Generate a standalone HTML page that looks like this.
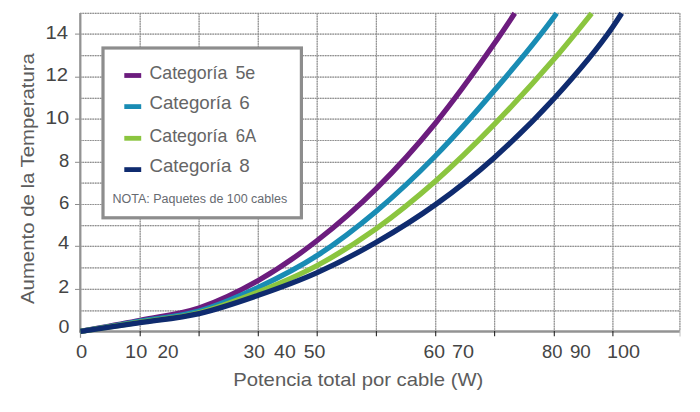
<!DOCTYPE html>
<html><head><meta charset="utf-8"><style>
html,body{margin:0;padding:0;background:#fff;width:700px;height:412px;overflow:hidden}
svg{display:block;font-family:"Liberation Sans",sans-serif}
</style></head><body>
<svg width="700" height="412" viewBox="0 0 700 412">
<rect width="700" height="412" fill="#fff"/>
<line x1="80" y1="310.90" x2="680" y2="310.90" stroke="#d2d2d2" stroke-width="1.2"/>
<line x1="80" y1="289.40" x2="680" y2="289.40" stroke="#d2d2d2" stroke-width="1.2"/>
<line x1="80" y1="267.80" x2="680" y2="267.80" stroke="#d2d2d2" stroke-width="1.2"/>
<line x1="80" y1="246.30" x2="680" y2="246.30" stroke="#d2d2d2" stroke-width="1.2"/>
<line x1="80" y1="225.60" x2="680" y2="225.60" stroke="#d2d2d2" stroke-width="1.2"/>
<line x1="80" y1="204.50" x2="680" y2="204.50" stroke="#d2d2d2" stroke-width="1.2"/>
<line x1="80" y1="183.10" x2="680" y2="183.10" stroke="#d2d2d2" stroke-width="1.2"/>
<line x1="80" y1="162.30" x2="680" y2="162.30" stroke="#d2d2d2" stroke-width="1.2"/>
<line x1="80" y1="140.50" x2="680" y2="140.50" stroke="#d2d2d2" stroke-width="1.2"/>
<line x1="80" y1="119.10" x2="680" y2="119.10" stroke="#d2d2d2" stroke-width="1.2"/>
<line x1="80" y1="98.30" x2="680" y2="98.30" stroke="#d2d2d2" stroke-width="1.2"/>
<line x1="80" y1="77.20" x2="680" y2="77.20" stroke="#d2d2d2" stroke-width="1.2"/>
<line x1="80" y1="55.70" x2="680" y2="55.70" stroke="#d2d2d2" stroke-width="1.2"/>
<line x1="80" y1="34.10" x2="680" y2="34.10" stroke="#d2d2d2" stroke-width="1.2"/>
<line x1="80" y1="13.3" x2="680" y2="13.3" stroke="#d2d2d2" stroke-width="1.2"/>
<line x1="140.20" y1="13.3" x2="140.20" y2="331" stroke="#d2d2d2" stroke-width="1.2"/>
<line x1="199.10" y1="13.3" x2="199.10" y2="331" stroke="#d2d2d2" stroke-width="1.2"/>
<line x1="258.30" y1="13.3" x2="258.30" y2="331" stroke="#d2d2d2" stroke-width="1.2"/>
<line x1="317.20" y1="13.3" x2="317.20" y2="331" stroke="#d2d2d2" stroke-width="1.2"/>
<line x1="376.40" y1="13.3" x2="376.40" y2="331" stroke="#d2d2d2" stroke-width="1.2"/>
<line x1="435.70" y1="13.3" x2="435.70" y2="331" stroke="#d2d2d2" stroke-width="1.2"/>
<line x1="494.60" y1="13.3" x2="494.60" y2="331" stroke="#d2d2d2" stroke-width="1.2"/>
<line x1="554.30" y1="13.3" x2="554.30" y2="331" stroke="#d2d2d2" stroke-width="1.2"/>
<line x1="612.90" y1="13.3" x2="612.90" y2="331" stroke="#d2d2d2" stroke-width="1.2"/>
<line x1="679.9" y1="13.3" x2="679.9" y2="331" stroke="#d2d2d2" stroke-width="1.2"/>
<line x1="80" y1="310.90" x2="680" y2="310.90" stroke="#8e8e8e" stroke-width="1.2" stroke-dasharray="1.4 1.1"/>
<line x1="80" y1="289.40" x2="680" y2="289.40" stroke="#8e8e8e" stroke-width="1.2" stroke-dasharray="1.4 1.1"/>
<line x1="80" y1="267.80" x2="680" y2="267.80" stroke="#8e8e8e" stroke-width="1.2" stroke-dasharray="1.4 1.1"/>
<line x1="80" y1="246.30" x2="680" y2="246.30" stroke="#8e8e8e" stroke-width="1.2" stroke-dasharray="1.4 1.1"/>
<line x1="80" y1="225.60" x2="680" y2="225.60" stroke="#8e8e8e" stroke-width="1.2" stroke-dasharray="1.4 1.1"/>
<line x1="80" y1="204.50" x2="680" y2="204.50" stroke="#8e8e8e" stroke-width="1.2" stroke-dasharray="1.4 1.1"/>
<line x1="80" y1="183.10" x2="680" y2="183.10" stroke="#8e8e8e" stroke-width="1.2" stroke-dasharray="1.4 1.1"/>
<line x1="80" y1="162.30" x2="680" y2="162.30" stroke="#8e8e8e" stroke-width="1.2" stroke-dasharray="1.4 1.1"/>
<line x1="80" y1="140.50" x2="680" y2="140.50" stroke="#8e8e8e" stroke-width="1.2" stroke-dasharray="1.4 1.1"/>
<line x1="80" y1="119.10" x2="680" y2="119.10" stroke="#8e8e8e" stroke-width="1.2" stroke-dasharray="1.4 1.1"/>
<line x1="80" y1="98.30" x2="680" y2="98.30" stroke="#8e8e8e" stroke-width="1.2" stroke-dasharray="1.4 1.1"/>
<line x1="80" y1="77.20" x2="680" y2="77.20" stroke="#8e8e8e" stroke-width="1.2" stroke-dasharray="1.4 1.1"/>
<line x1="80" y1="55.70" x2="680" y2="55.70" stroke="#8e8e8e" stroke-width="1.2" stroke-dasharray="1.4 1.1"/>
<line x1="80" y1="34.10" x2="680" y2="34.10" stroke="#8e8e8e" stroke-width="1.2" stroke-dasharray="1.4 1.1"/>
<line x1="80" y1="13.3" x2="680" y2="13.3" stroke="#8e8e8e" stroke-width="1.2" stroke-dasharray="1.4 1.1"/>
<line x1="140.20" y1="13.3" x2="140.20" y2="331" stroke="#8e8e8e" stroke-width="1.2" stroke-dasharray="1.4 1.1"/>
<line x1="199.10" y1="13.3" x2="199.10" y2="331" stroke="#8e8e8e" stroke-width="1.2" stroke-dasharray="1.4 1.1"/>
<line x1="258.30" y1="13.3" x2="258.30" y2="331" stroke="#8e8e8e" stroke-width="1.2" stroke-dasharray="1.4 1.1"/>
<line x1="317.20" y1="13.3" x2="317.20" y2="331" stroke="#8e8e8e" stroke-width="1.2" stroke-dasharray="1.4 1.1"/>
<line x1="376.40" y1="13.3" x2="376.40" y2="331" stroke="#8e8e8e" stroke-width="1.2" stroke-dasharray="1.4 1.1"/>
<line x1="435.70" y1="13.3" x2="435.70" y2="331" stroke="#8e8e8e" stroke-width="1.2" stroke-dasharray="1.4 1.1"/>
<line x1="494.60" y1="13.3" x2="494.60" y2="331" stroke="#8e8e8e" stroke-width="1.2" stroke-dasharray="1.4 1.1"/>
<line x1="554.30" y1="13.3" x2="554.30" y2="331" stroke="#8e8e8e" stroke-width="1.2" stroke-dasharray="1.4 1.1"/>
<line x1="612.90" y1="13.3" x2="612.90" y2="331" stroke="#8e8e8e" stroke-width="1.2" stroke-dasharray="1.4 1.1"/>
<line x1="679.9" y1="13.3" x2="679.9" y2="331" stroke="#8e8e8e" stroke-width="1.2" stroke-dasharray="1.4 1.1"/>
<line x1="80.3" y1="13" x2="80.3" y2="332" stroke="#939393" stroke-width="2.3"/>
<line x1="79" y1="331.5" x2="680" y2="331.5" stroke="#939393" stroke-width="2.3"/>
<line x1="75" y1="289.40" x2="80" y2="289.40" stroke="#8c8c8c" stroke-width="1"/>
<line x1="75" y1="246.30" x2="80" y2="246.30" stroke="#8c8c8c" stroke-width="1"/>
<line x1="75" y1="204.50" x2="80" y2="204.50" stroke="#8c8c8c" stroke-width="1"/>
<line x1="75" y1="162.30" x2="80" y2="162.30" stroke="#8c8c8c" stroke-width="1"/>
<line x1="75" y1="119.10" x2="80" y2="119.10" stroke="#8c8c8c" stroke-width="1"/>
<line x1="75" y1="77.20" x2="80" y2="77.20" stroke="#8c8c8c" stroke-width="1"/>
<line x1="75" y1="34.10" x2="80" y2="34.10" stroke="#8c8c8c" stroke-width="1"/>
<line x1="80.5" y1="331" x2="80.5" y2="337.8" stroke="#8f8f8f" stroke-width="1.2"/>
<line x1="140.20" y1="331" x2="140.20" y2="336.3" stroke="#262626" stroke-width="1.1"/>
<line x1="199.10" y1="331" x2="199.10" y2="336.3" stroke="#262626" stroke-width="1.1"/>
<line x1="258.30" y1="331" x2="258.30" y2="336.3" stroke="#262626" stroke-width="1.1"/>
<line x1="317.20" y1="331" x2="317.20" y2="336.3" stroke="#262626" stroke-width="1.1"/>
<line x1="376.40" y1="331" x2="376.40" y2="336.3" stroke="#262626" stroke-width="1.1"/>
<line x1="435.70" y1="331" x2="435.70" y2="336.3" stroke="#262626" stroke-width="1.1"/>
<line x1="494.60" y1="331" x2="494.60" y2="336.3" stroke="#262626" stroke-width="1.1"/>
<line x1="554.30" y1="331" x2="554.30" y2="336.3" stroke="#262626" stroke-width="1.1"/>
<line x1="612.90" y1="331" x2="612.90" y2="336.3" stroke="#262626" stroke-width="1.1"/>
<line x1="680" y1="331" x2="680" y2="336.5" stroke="#c0c0c0" stroke-width="1"/>
<path d="M80.50,331.30 C90.45,329.47 120.43,324.18 140.20,320.30 C159.97,316.42 179.42,314.63 199.10,308.00 C218.78,301.37 238.62,291.75 258.30,280.50 C277.98,269.25 297.53,255.81 317.20,240.50 C336.87,225.19 356.57,208.20 376.30,188.61 C396.03,169.03 415.90,147.19 435.60,122.98 C455.30,98.77 474.72,71.79 494.50,43.35 C500.57,34.62 507.61,24.10 514.75,13.28" fill="none" stroke="#6c1c7e" stroke-width="5.3" stroke-linejoin="round"/>
<path d="M80.50,331.30 C90.45,329.62 120.43,324.58 140.20,321.20 C159.97,317.82 179.42,316.65 199.10,311.00 C218.78,305.35 238.62,296.55 258.30,287.30 C277.98,278.05 297.53,268.19 317.20,255.50 C336.87,242.81 356.57,227.78 376.30,211.16 C396.03,194.53 415.90,175.89 435.60,155.74 C455.30,135.60 474.72,113.53 494.50,90.32 C514.28,67.10 534.60,43.47 554.30,16.46 C555.05,15.43 555.81,14.38 556.58,13.30" fill="none" stroke="#198cb4" stroke-width="5.3" stroke-linejoin="round"/>
<path d="M80.50,331.30 C90.45,329.78 120.43,325.28 140.20,322.20 C159.97,319.12 179.42,317.83 199.10,312.80 C218.78,307.77 238.62,299.88 258.30,292.00 C277.98,284.12 297.53,276.07 317.20,265.50 C336.87,254.93 356.57,242.65 376.30,228.56 C396.03,214.47 415.90,198.36 435.60,180.96 C455.30,163.55 474.72,144.48 494.50,124.12 C514.28,103.76 534.60,81.67 554.30,58.82 C565.51,45.81 579.72,28.23 591.68,13.29" fill="none" stroke="#8bc53f" stroke-width="5.3" stroke-linejoin="round"/>
<path d="M80.50,331.30 C90.45,329.87 120.43,325.65 140.20,322.70 C159.97,319.75 179.42,318.17 199.10,313.60 C218.78,309.03 238.62,302.13 258.30,295.30 C277.98,288.47 297.53,281.44 317.20,272.60 C336.87,263.76 356.57,253.62 376.30,242.27 C396.03,230.92 415.90,218.65 435.60,204.50 C455.30,190.36 474.72,175.10 494.50,157.41 C514.28,139.71 534.60,120.05 554.30,98.31 C574.00,76.57 593.17,55.28 612.70,26.95 C615.52,22.86 618.55,18.23 621.70,13.26" fill="none" stroke="#0f2b6f" stroke-width="5.3" stroke-linejoin="round"/>
<rect x="103" y="48" width="198.4" height="169.8" fill="#fff" stroke="#8d8d8d" stroke-width="3.2"/>
<rect x="124.3" y="73.1" width="16.9" height="4.8" fill="#6c1c7e"/>
<rect x="124.3" y="104.2" width="16.9" height="4.8" fill="#198cb4"/>
<rect x="124.3" y="135.9" width="16.9" height="4.8" fill="#8bc53f"/>
<rect x="124.3" y="167.2" width="16.9" height="4.8" fill="#0f2b6f"/>
<text x="45.47" y="38.60" font-size="18" fill="#454545" textLength="22.56" lengthAdjust="spacingAndGlyphs">14</text>
<text x="45.47" y="81.30" font-size="18" fill="#454545" textLength="22.56" lengthAdjust="spacingAndGlyphs">12</text>
<text x="45.21" y="124.30" font-size="18" fill="#454545" textLength="23.93" lengthAdjust="spacingAndGlyphs">10</text>
<text x="58.90" y="167.10" font-size="18" fill="#454545" textLength="10.22" lengthAdjust="spacingAndGlyphs">8</text>
<text x="59.10" y="208.50" font-size="18" fill="#454545" textLength="10.32" lengthAdjust="spacingAndGlyphs">6</text>
<text x="57.90" y="249.10" font-size="18" fill="#454545" textLength="11.22" lengthAdjust="spacingAndGlyphs">4</text>
<text x="58.20" y="293.30" font-size="18" fill="#454545" textLength="10.92" lengthAdjust="spacingAndGlyphs">2</text>
<text x="58.50" y="332.80" font-size="18" fill="#454545" textLength="10.92" lengthAdjust="spacingAndGlyphs">0</text>
<text x="76.10" y="358.00" font-size="18" fill="#454545" textLength="11.22" lengthAdjust="spacingAndGlyphs">0</text>
<text x="125.09" y="358.00" font-size="18" fill="#454545" textLength="22.14" lengthAdjust="spacingAndGlyphs">10</text>
<text x="157.50" y="358.00" font-size="18" fill="#454545" textLength="21.03" lengthAdjust="spacingAndGlyphs">20</text>
<text x="243.50" y="358.00" font-size="18" fill="#454545" textLength="21.43" lengthAdjust="spacingAndGlyphs">30</text>
<text x="274.10" y="358.00" font-size="18" fill="#454545" textLength="21.73" lengthAdjust="spacingAndGlyphs">40</text>
<text x="303.70" y="358.00" font-size="18" fill="#454545" textLength="21.73" lengthAdjust="spacingAndGlyphs">50</text>
<text x="423.50" y="358.00" font-size="18" fill="#454545" textLength="21.53" lengthAdjust="spacingAndGlyphs">60</text>
<text x="452.00" y="358.00" font-size="18" fill="#454545" textLength="22.03" lengthAdjust="spacingAndGlyphs">70</text>
<text x="542.10" y="358.00" font-size="18" fill="#454545" textLength="20.43" lengthAdjust="spacingAndGlyphs">80</text>
<text x="569.90" y="358.00" font-size="18" fill="#454545" textLength="20.93" lengthAdjust="spacingAndGlyphs">90</text>
<text x="607.00" y="358.00" font-size="18" fill="#454545" textLength="33.05" lengthAdjust="spacingAndGlyphs">100</text>
<text x="233.20" y="386.30" font-size="18.5" fill="#5c5c5c" textLength="250.10" lengthAdjust="spacingAndGlyphs">Potencia total por cable (W)</text>
<text x="149.50" y="78.70" font-size="18.5" fill="#656565" textLength="77.88" lengthAdjust="spacingAndGlyphs">Categoría</text>
<text x="235.40" y="78.70" font-size="18.5" fill="#656565" textLength="19.86" lengthAdjust="spacingAndGlyphs">5e</text>
<text x="149.50" y="109.40" font-size="18.5" fill="#656565" textLength="81.94" lengthAdjust="spacingAndGlyphs">Categoría</text>
<text x="239.30" y="109.40" font-size="18.5" fill="#656565" textLength="10.50" lengthAdjust="spacingAndGlyphs">6</text>
<text x="149.50" y="141.60" font-size="18.5" fill="#656565" textLength="77.88" lengthAdjust="spacingAndGlyphs">Categoría</text>
<text x="235.80" y="141.60" font-size="18.5" fill="#656565" textLength="20.48" lengthAdjust="spacingAndGlyphs">6A</text>
<text x="149.50" y="172.40" font-size="18.5" fill="#656565" textLength="81.94" lengthAdjust="spacingAndGlyphs">Categoría</text>
<text x="239.30" y="172.40" font-size="18.5" fill="#656565" textLength="10.50" lengthAdjust="spacingAndGlyphs">8</text>
<text x="112.60" y="202.50" font-size="12" fill="#666a70" textLength="174.59" lengthAdjust="spacingAndGlyphs">NOTA: Paquetes de 100 cables</text>
<g transform="translate(34.00,304.00) rotate(-90)"><text x="0" y="0" font-size="18.5" fill="#5c5c5c" textLength="250.87" lengthAdjust="spacingAndGlyphs">Aumento de la Temperatura</text></g>
</svg>
</body></html>
